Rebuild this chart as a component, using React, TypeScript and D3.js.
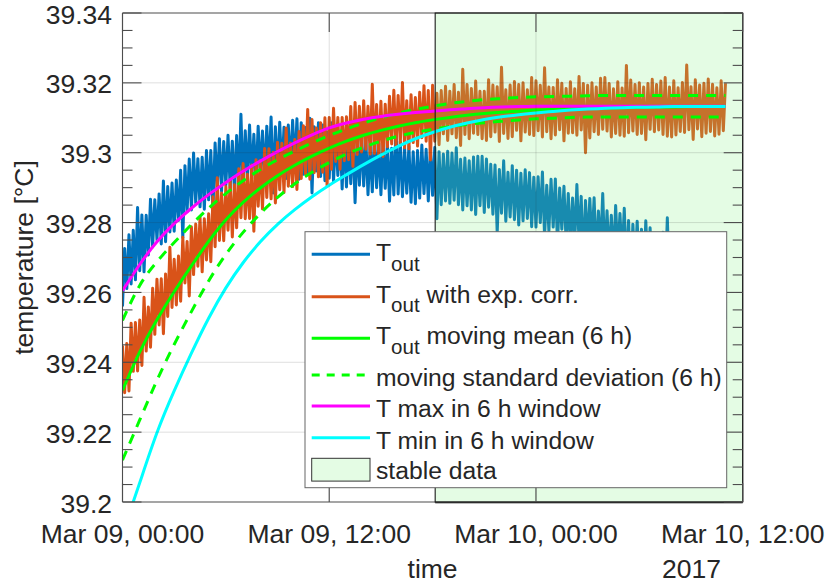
import React from "react";
import * as d3 from "d3";

// ---------------- data ----------------
// sampling of the raw measurement series (hours since Mar 09, 00:00)
const SAMPLE_STEP_H = 0.125;

// T_out with exponential correction (orange)
const tOutCorr = [
  39.2448, 39.2313, 39.2454, 39.2318, 39.2512, 39.2374, 39.2514, 39.2375,
  39.2521, 39.2391, 39.2586, 39.2432, 39.2558, 39.2443, 39.2612, 39.248,
  39.2638, 39.2507, 39.2639, 39.2482, 39.2653, 39.2531, 39.2729, 39.2557,
  39.2695, 39.2564, 39.2704, 39.2575, 39.2758, 39.2627, 39.2746, 39.259,
  39.2788, 39.2651, 39.2796, 39.2675, 39.2815, 39.2659, 39.2811, 39.2693,
  39.2825, 39.2688, 39.2874, 39.2731, 39.2928, 39.2749, 39.2885, 39.2748,
  39.2903, 39.2778, 39.2919, 39.2759, 39.2908, 39.2785, 39.2954, 39.2814,
  39.2969, 39.2811, 39.2938, 39.2812, 39.2965, 39.2775, 39.298, 39.2847,
  39.2978, 39.2839, 39.3012, 39.2872, 39.3011, 39.2868, 39.3001, 39.2856,
  39.303, 39.2894, 39.3027, 39.2886, 39.3071, 39.2904, 39.3028, 39.2903,
  39.3038, 39.2895, 39.3061, 39.2926, 39.3077, 39.294, 39.3124, 39.2924,
  39.3095, 39.2943, 39.3071, 39.2931, 39.3086, 39.2944, 39.31, 39.2906,
  39.3101, 39.2953, 39.3127, 39.2975, 39.3101, 39.2953, 39.3101, 39.2977,
  39.3103, 39.298, 39.3132, 39.2961, 39.3144, 39.2995, 39.3133, 39.3002,
  39.3149, 39.301, 39.3133, 39.2996, 39.3196, 39.2998, 39.3138, 39.2993,
  39.3147, 39.2989, 39.3139, 39.3017, 39.3162, 39.3025, 39.3179, 39.3018,
  39.3164, 39.3027, 39.3201, 39.3014, 39.3149, 39.3011, 39.3166, 39.3029,
  39.3158, 39.3019, 39.3173, 39.3043, 39.3192, 39.3033, 39.3178, 39.2979,
  39.3193, 39.3033, 39.317, 39.3023, 39.3178, 39.3054, 39.319, 39.3035,
  39.3176, 39.3054, 39.3195, 39.3043, 39.3173, 39.3021, 39.3239, 39.3052,
  39.3195, 39.304, 39.3184, 39.3056, 39.3205, 39.3052, 39.3176, 39.304,
  39.3176, 39.3035, 39.3209, 39.3046, 39.3194, 39.3059, 39.3189, 39.3032,
  39.3245, 39.3055, 39.318, 39.3041, 39.3194, 39.3046, 39.3204, 39.3064,
  39.3195, 39.3034, 39.32, 39.3059, 39.318, 39.3052, 39.3215, 39.3049,
  39.3206, 39.3063, 39.3193, 39.3045, 39.3243, 39.306, 39.3188, 39.304,
  39.3187, 39.3051, 39.3209, 39.3066, 39.3199, 39.3034, 39.3184, 39.3056,
  39.3203, 39.3057, 39.3183, 39.305, 39.3218, 39.3065, 39.3198, 39.3,
  39.3193, 39.3042, 39.32, 39.306, 39.3188, 39.3052, 39.3213, 39.3067,
  39.3215, 39.3062, 39.3198, 39.3045, 39.3183, 39.3055, 39.3203, 39.305,
  39.3185, 39.3047, 39.325, 39.3057, 39.3208, 39.3062, 39.3195, 39.3052,
  39.32, 39.3055, 39.3188, 39.3037, 39.3198, 39.3067, 39.321, 39.306,
  39.3195, 39.3065, 39.3205, 39.3052, 39.3215, 39.3047, 39.3188, 39.3045,
  39.3206, 39.3051, 39.3186, 39.3061, 39.3201, 39.3058, 39.3251, 39.3066,
  39.3189, 39.3038, 39.3209, 39.3068, 39.3194, 39.3046, 39.3199, 39.3056,
  39.3211, 39.3061, 39.3196, 39.3048, 39.3186, 39.3053, 39.3206, 39.3063,
  39.3199,
];

// T_out (blue)
const tOut = [
  39.256, 39.2726, 39.2611, 39.2765, 39.2624, 39.2778, 39.2636, 39.2843,
  39.2662, 39.2822, 39.2659, 39.2821, 39.2707, 39.2867, 39.273, 39.2865,
  39.275, 39.2882, 39.2739, 39.2919, 39.2745, 39.2903, 39.2773, 39.2913,
  39.2775, 39.2922, 39.2806, 39.295, 39.2757, 39.2963, 39.2831, 39.2982,
  39.2836, 39.2999, 39.2856, 39.2983, 39.2845, 39.2987, 39.2838, 39.3006,
  39.2865, 39.3006, 39.2837, 39.3028, 39.2898, 39.304, 39.289, 39.3032,
  39.2907, 39.305, 39.2899, 39.3033, 39.2887, 39.3049, 39.2908, 39.311,
  39.29, 39.3063, 39.2929, 39.3079, 39.2926, 39.3053, 39.2919, 39.3076,
  39.2938, 39.3062, 39.2922, 39.3076, 39.2947, 39.3102, 39.2885, 39.3074,
  39.2932, 39.3087, 39.2945, 39.3073, 39.2926, 39.3079, 39.2956, 39.3093,
  39.2957, 39.3097, 39.2924, 39.3086, 39.2938, 39.3072, 39.2942, 39.3099,
  39.2885, 39.3074, 39.2948, 39.3086, 39.2932, 39.3079, 39.292, 39.3059,
  39.2927, 39.3086, 39.2918, 39.3057, 39.2935, 39.3061, 39.2896, 39.306,
  39.2902, 39.3043, 39.2911, 39.3057, 39.2857, 39.3038, 39.2907, 39.3053,
  39.2905, 39.304, 39.288, 39.3022, 39.2888, 39.3052, 39.29, 39.3027,
  39.288, 39.3025, 39.2898, 39.303, 39.2861, 39.3013, 39.2879, 39.3076,
  39.2882, 39.3032, 39.2874, 39.3013, 39.2884, 39.3019, 39.2858, 39.3003,
  39.2854, 39.3006, 39.287, 39.3022, 39.2883, 39.301, 39.2862, 39.3014,
  39.2878, 39.3015, 39.2811, 39.3003, 39.2851, 39.2996, 39.2862, 39.3004,
  39.2855, 39.2999, 39.2864, 39.3014, 39.2851, 39.2981, 39.2836, 39.2985,
  39.2848, 39.2977, 39.2836, 39.2988, 39.2823, 39.299, 39.2848, 39.299,
  39.2829, 39.2982, 39.2844, 39.2967, 39.2824, 39.2965, 39.277, 39.2952,
  39.2827, 39.2977, 39.2804, 39.2944, 39.2816, 39.2963, 39.2808, 39.295,
  39.2793, 39.2941, 39.2805, 39.2951, 39.2812, 39.2943, 39.2788, 39.293,
  39.2787, 39.2931, 39.28, 39.2945, 39.276, 39.2907, 39.2776, 39.2924,
  39.2787, 39.2925, 39.2737, 39.2899, 39.2781, 39.2904, 39.2743, 39.2883,
  39.2732, 39.287, 39.2745, 39.2909, 39.2745, 39.2875, 39.2684, 39.2863,
  39.2732, 39.2869, 39.2736, 39.2871, 39.2695, 39.2833, 39.272, 39.2883,
  39.2691, 39.2834, 39.2695, 39.2821, 39.2687, 39.2849, 39.2703, 39.2826,
  39.27, 39.2841, 39.2659, 39.2806, 39.2613, 39.2795, 39.2663, 39.2804,
  39.2653, 39.2781, 39.2642, 39.2805, 39.2658, 39.2785, 39.2619, 39.2761,
  39.2609, 39.2769, 39.2644, 39.2772, 39.2621, 39.2814, 39.2611, 39.2746,
  39.2617, 39.2757, 39.2586, 39.2727, 39.259, 39.2735, 39.2603, 39.275,
  39.2577, 39.2714, 39.2582, 39.2724, 39.254, 39.2708, 39.2585, 39.2711,
  39.2577, 39.272, 39.2555, 39.269, 39.2539, 39.2677, 39.2494, 39.2694,
  39.2523,
];

// hourly window statistics (hour 0 .. 35)
const movMean = [
  39.232, 39.243, 39.2522, 39.2602, 39.2676, 39.2746, 39.2808, 39.2858, 39.2899,
  39.2934, 39.2964, 39.299, 39.3013, 39.3033, 39.305, 39.3064, 39.3076, 39.3086,
  39.3094, 39.3101, 39.3107, 39.3112, 39.3116, 39.3119, 39.3122, 39.3124, 39.3126,
  39.3127, 39.3128, 39.3129, 39.313, 39.3131, 39.3131, 39.3132, 39.3132, 39.3133,
];
const movStdUpper = [
  39.252, 39.262, 39.2688, 39.2743, 39.2794, 39.2841, 39.2883, 39.292, 39.2952,
  39.298, 39.3005, 39.3028, 39.3049, 39.3068, 39.3085, 39.31, 39.3113, 39.3124,
  39.3133, 39.3141, 39.3147, 39.3152, 39.3155, 39.3158, 39.316, 39.3161, 39.3162,
  39.3163, 39.3164, 39.3164, 39.3164, 39.3164, 39.3164, 39.3164, 39.3164, 39.3164,
];
const movStdLower = [
  39.212, 39.2235, 39.2348, 39.2451, 39.2545, 39.2633, 39.2709, 39.2772, 39.2826,
  39.2872, 39.2911, 39.2944, 39.2972, 39.2996, 39.3016, 39.3033, 39.3047, 39.3058,
  39.3067, 39.3075, 39.3081, 39.3086, 39.309, 39.3094, 39.3097, 39.3099, 39.3101,
  39.3102, 39.3102, 39.3102, 39.3102, 39.3102, 39.3102, 39.3102, 39.3102, 39.3102,
];
const movMax = [
  39.2605, 39.268, 39.2745, 39.2797, 39.2841, 39.288, 39.2915, 39.2947, 39.2976,
  39.3003, 39.3028, 39.3051, 39.3071, 39.3085, 39.3096, 39.3104, 39.311, 39.3115,
  39.3119, 39.3123, 39.3126, 39.3129, 39.3131, 39.3132, 39.3133, 39.3133, 39.3133,
  39.3133, 39.3133, 39.3133, 39.3133, 39.3133, 39.3133, 39.3133, 39.3133, 39.3133,
];
const movMin = [
  39.191, 39.2055, 39.2198, 39.2318, 39.2426, 39.2526, 39.2613, 39.2685, 39.2745,
  39.2795, 39.2837, 39.2874, 39.2907, 39.2937, 39.2966, 39.2993, 39.3018, 39.304,
  39.3058, 39.3073, 39.3085, 39.3095, 39.3103, 39.3109, 39.3114, 39.3118, 39.3122,
  39.3125, 39.3127, 39.3129, 39.313, 39.3131, 39.3132, 39.3132, 39.3132, 39.3132,
];

const stableStartHour = 18.15;

const yTickValues = [39.2, 39.22, 39.24, 39.26, 39.28, 39.3, 39.32, 39.34];
const yTickLabels = ["39.2", "39.22", "39.24", "39.26", "39.28", "39.3", "39.32", "39.34"];
const xTickHours = [0, 12, 24, 36];
const xTickLabels = ["Mar 09, 00:00", "Mar 09, 12:00", "Mar 10, 00:00", "Mar 10, 12:00"];

// ---------------- drawing ----------------
const W = 830;
const H = 586;
const PL = 122.5;
const PR = 742.7;
const PT = 13;
const PB = 502;
const T0 = new Date(2017, 2, 9, 0, 0, 0);
const hd = (h: number) => new Date(T0.getTime() + h * 3600 * 1000);

const FONT = "'Liberation Sans', Arial, Helvetica, sans-serif";
const TXT = "#262626";
const AX = "#4d4d4d";

const C_BLUE = "#0072BD";
const C_ORANGE = "#D95319";
const C_GREEN = "#00FF00";
const C_MAG = "#FF00FF";
const C_CYAN = "#00FFFF";

export default function App() {
  const x = d3.scaleTime().domain([hd(0), hd(36)]).range([PL, PR]);
  const y = d3.scaleLinear().domain([39.2, 39.34]).range([PB, PT]);

  const raw = d3
    .line<number>()
    .x((_, i) => x(hd(i * SAMPLE_STEP_H)))
    .y((v) => y(v));
  const smooth = d3
    .line<number>()
    .x((_, i) => x(hd(i)))
    .y((v) => y(v))
    .curve(d3.curveNatural);

  const minorY = d3.range(0, 29).map((i) => 39.2 + i * 0.005);
  const majorSet = new Set(yTickValues.map((v) => v.toFixed(3)));

  const xs = x(hd(stableStartHour));

  const legendRows = [
    { kind: "line", color: C_BLUE, dash: "", main: "T", sub: "out", rest: "", ly: 254.3, ty: 261 },
    { kind: "line", color: C_ORANGE, dash: "", main: "T", sub: "out", rest: " with exp. corr.", ly: 296.7, ty: 302.7 },
    { kind: "line", color: C_GREEN, dash: "", main: "T", sub: "out", rest: " moving mean (6 h)", ly: 338.3, ty: 344 },
    { kind: "line", color: C_GREEN, dash: "8 7", main: "moving standard deviation (6 h)", sub: "", rest: "", ly: 375, ty: 385.5 },
    { kind: "line", color: C_MAG, dash: "", main: "T max in 6 h window", sub: "", rest: "", ly: 406, ty: 417 },
    { kind: "line", color: C_CYAN, dash: "", main: "T min in 6 h window", sub: "", rest: "", ly: 437.7, ty: 448.5 },
    { kind: "patch", color: "", dash: "", main: "stable data", sub: "", rest: "", ly: 469.7, ty: 479 },
  ];

  return (
    <svg
      width={W}
      height={H}
      viewBox={`0 0 ${W} ${H}`}
      style={{ position: "fixed", left: 0, top: 0, background: "#fff" }}
      fontFamily={FONT}
    >
      <defs>
        <clipPath id="plotClip">
          <rect x={PL} y={PT} width={PR - PL} height={PB - PT} />
        </clipPath>
      </defs>
      <rect x={0} y={0} width={W} height={H} fill="#fff" />

      <g clipPath="url(#plotClip)">
        <path d={raw(tOut) || ""} fill="none" stroke={C_BLUE} strokeWidth={3} strokeLinejoin="round" />
        <path d={raw(tOutCorr) || ""} fill="none" stroke={C_ORANGE} strokeWidth={3} strokeLinejoin="round" />
        {/* stable data patch */}
        <rect x={xs} y={PT} width={PR - xs} height={PB - PT} fill="#78f078" fillOpacity={0.2} stroke="none" />
        <path d={smooth(movMean) || ""} fill="none" stroke={C_GREEN} strokeWidth={3} />
        <path d={smooth(movStdUpper) || ""} fill="none" stroke={C_GREEN} strokeWidth={3} strokeDasharray="10 8" />
        <path d={smooth(movStdLower) || ""} fill="none" stroke={C_GREEN} strokeWidth={3} strokeDasharray="10 8" />
        <path d={smooth(movMax) || ""} fill="none" stroke={C_MAG} strokeWidth={3} />
        <path d={smooth(movMin) || ""} fill="none" stroke={C_CYAN} strokeWidth={3} />
      </g>

      {/* grid */}
      <g stroke={TXT} strokeOpacity={0.15} strokeWidth={1}>
        {yTickValues.slice(1, -1).map((v) => (
          <line key={"gy" + v} x1={PL} x2={PR} y1={y(v)} y2={y(v)} />
        ))}
        {xTickHours.slice(1, -1).map((h) => (
          <line key={"gx" + h} x1={x(hd(h))} x2={x(hd(h))} y1={PT} y2={PB} />
        ))}
      </g>

      {/* axes box */}
      <g stroke={AX} strokeWidth={1.1} fill="none">
        <line x1={PL} x2={PR} y1={PB} y2={PB} />
        <line x1={PL} x2={PR} y1={PT} y2={PT} />
        <line x1={PL} x2={PL} y1={PT} y2={PB} />
        <line x1={PR} x2={PR} y1={PT} y2={PB} />
      </g>
      {/* patch edge */}
      <rect x={xs} y={PT} width={PR - xs} height={PB - PT} fill="none" stroke="#1a1a1a" strokeWidth={1.1} />
      <line x1={xs} x2={PR} y1={PB + 0.8} y2={PB + 0.8} stroke="#1a1a1a" strokeWidth={1} />

      {/* ticks */}
      <g stroke={AX} strokeWidth={1.1}>
        {minorY.map((v) => {
          const major = majorSet.has(v.toFixed(3));
          const len = major ? 19 : 10;
          return (
            <g key={"ty" + v.toFixed(3)}>
              <line x1={PL} x2={PL + len} y1={y(v)} y2={y(v)} />
              <line x1={PR} x2={PR - len} y1={y(v)} y2={y(v)} />
            </g>
          );
        })}
        {xTickHours.map((h) => (
          <g key={"tx" + h}>
            <line x1={x(hd(h))} x2={x(hd(h))} y1={PB} y2={PB - 19} />
            <line x1={x(hd(h))} x2={x(hd(h))} y1={PT} y2={PT + 19} />
          </g>
        ))}
      </g>

      {/* tick labels */}
      <g fill={TXT} fontSize={26.5}>
        {yTickValues.map((v, i) => (
          <text key={"ly" + v} x={112} y={y(v) + 10.5} textAnchor="end">
            {yTickLabels[i]}
          </text>
        ))}
        {xTickHours.map((h, i) => (
          <text key={"lx" + h} x={x(hd(h))} y={543} textAnchor="middle">
            {xTickLabels[i]}
          </text>
        ))}
        <text x={(PL + PR) / 2} y={578} textAnchor="middle">time</text>
        <text x={721} y={578} textAnchor="end">2017</text>
        <text transform={`translate(33, ${(PT + PB) / 2}) rotate(-90)`} textAnchor="middle">
          temperature [°C]
        </text>
      </g>

      {/* legend */}
      <g>
        <rect x={305} y={231.7} width={421.7} height={256} fill="#fff" stroke="#666" strokeWidth={1} />
        {legendRows.map((r, i) => (
          <g key={"lg" + i}>
            {r.kind === "line" ? (
              <line x1={311.7} x2={370} y1={r.ly} y2={r.ly} stroke={r.color} strokeWidth={3} strokeDasharray={r.dash || undefined} />
            ) : (
              <rect x={311.7} y={r.ly - 11.4} width={58.3} height={22.8} fill="#e4fce4" stroke="#333" strokeWidth={1} />
            )}
            <text x={376} y={r.ty} fontSize={24.7} fill={TXT} style={{ whiteSpace: "pre" }}>
              {r.main}
              {r.sub ? (
                <tspan fontSize={20.5} dy={9.7}>
                  {r.sub}
                </tspan>
              ) : null}
              {r.rest ? (
                <tspan fontSize={24.7} dy={-9.7}>
                  {r.rest}
                </tspan>
              ) : null}
            </text>
          </g>
        ))}
      </g>
    </svg>
  );
}
